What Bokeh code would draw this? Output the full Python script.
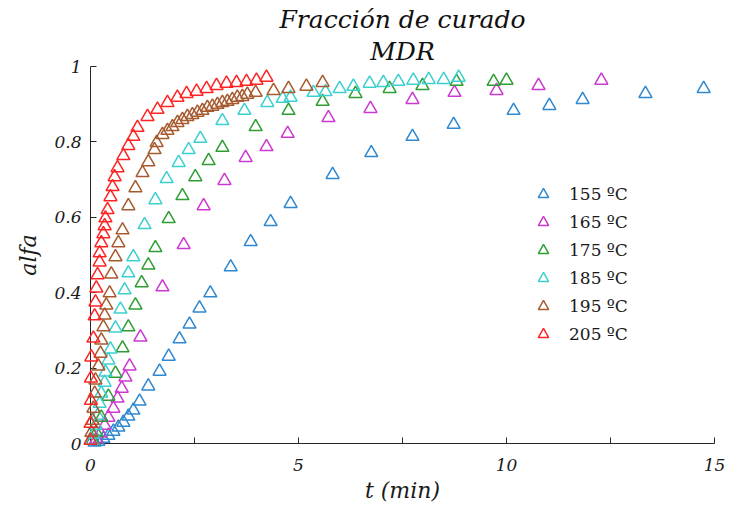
from bokeh.plotting import figure
from bokeh.models import (Range1d, LinearAxis, FixedTicker, CustomJSTickFormatter,
                          Legend, LegendItem, Title)
from bokeh.embed import file_html
from bokeh.resources import INLINE

# ---------------- data ----------------
t155 = [0.10, 0.19, 0.31, 0.43, 0.55, 0.67, 0.79, 0.91, 1.03, 1.18, 1.39, 1.66, 1.88, 2.14, 2.38,
        2.62, 2.88, 3.37, 3.85, 4.33, 4.81, 5.82, 6.75, 7.74, 8.73, 10.17, 11.03, 11.83, 13.34, 14.74]
a155 = [0.003, 0.005, 0.013, 0.021, 0.032, 0.043, 0.056, 0.072, 0.088, 0.112, 0.152, 0.191, 0.231, 0.277, 0.316,
        0.359, 0.399, 0.468, 0.535, 0.588, 0.636, 0.713, 0.771, 0.814, 0.846, 0.883, 0.896, 0.912, 0.928, 0.941]

t165 = [0.14, 0.24, 0.34, 0.43, 0.55, 0.65, 0.75, 0.84, 0.94, 1.20, 1.73, 2.24, 2.72, 3.22, 3.73, 4.23,
        4.74, 5.72, 6.73, 7.74, 8.75, 9.76, 10.77, 12.28]
a165 = [0.011, 0.027, 0.048, 0.069, 0.093, 0.120, 0.146, 0.176, 0.205, 0.282, 0.415, 0.527, 0.630, 0.697, 0.758, 0.787,
        0.822, 0.864, 0.888, 0.912, 0.931, 0.936, 0.949, 0.963]

t175 = [0.05, 0.14, 0.26, 0.43, 0.60, 0.77, 0.91, 1.08, 1.23, 1.39, 1.56, 1.88, 2.21, 2.52, 2.84, 3.17,
        3.97, 4.76, 5.58, 6.37, 7.19, 7.98, 8.80, 9.69, 10.0]
a175 = [0.008, 0.029, 0.069, 0.125, 0.186, 0.253, 0.309, 0.367, 0.426, 0.473, 0.519, 0.596, 0.657, 0.707, 0.750, 0.785,
        0.840, 0.883, 0.907, 0.928, 0.941, 0.949, 0.960, 0.960, 0.963]

t185 = [0.02, 0.07, 0.12, 0.17, 0.22, 0.26, 0.34, 0.36, 0.43, 0.48, 0.60, 0.72, 0.82, 0.91, 1.03, 1.30, 1.56,
        1.83, 2.12, 2.36, 2.64, 3.17, 3.70, 4.25, 4.62, 4.81, 5.36, 5.65, 5.99, 6.32, 6.71, 7.04, 7.40, 7.76,
        8.13, 8.49, 8.85]
a185 = [0.008, 0.024, 0.048, 0.074, 0.106, 0.133, 0.162, 0.189, 0.221, 0.250, 0.306, 0.356, 0.407, 0.452, 0.495,
        0.580, 0.646, 0.702, 0.745, 0.779, 0.809, 0.856, 0.883, 0.904, 0.915, 0.918, 0.931, 0.933, 0.941, 0.947,
        0.955, 0.957, 0.960, 0.963, 0.965, 0.965, 0.971]

t195 = [0.02, 0.05, 0.07, 0.10, 0.12, 0.19, 0.24, 0.26, 0.31, 0.34, 0.38, 0.46, 0.50, 0.60, 0.67, 0.77, 0.91,
        1.08, 1.25, 1.39, 1.54, 1.59, 1.73, 1.85, 1.97, 2.09, 2.21, 2.33, 2.45, 2.57, 2.69, 2.81, 2.93, 3.05,
        3.17, 3.29, 3.41, 3.53, 3.65, 3.77, 3.97, 4.40, 4.76, 5.19, 5.58]
a195 = [0.029, 0.061, 0.093, 0.133, 0.168, 0.205, 0.239, 0.274, 0.309, 0.340, 0.367, 0.399, 0.449, 0.495, 0.532,
        0.566, 0.630, 0.678, 0.718, 0.747, 0.779, 0.798, 0.819, 0.830, 0.840, 0.851, 0.859, 0.867, 0.872, 0.878,
        0.883, 0.891, 0.894, 0.899, 0.904, 0.907, 0.912, 0.918, 0.920, 0.926, 0.931, 0.936, 0.941, 0.947, 0.957]

t205 = [0.0, 0.0, 0.01, 0.01, 0.02, 0.07, 0.10, 0.12, 0.14, 0.17, 0.22, 0.22, 0.26, 0.31, 0.34, 0.36, 0.41,
        0.48, 0.53, 0.58, 0.65, 0.79, 0.91, 1.03, 1.13, 1.37, 1.61, 1.85, 2.09, 2.31, 2.55, 2.79, 3.03, 3.27,
        3.51, 3.75, 3.99, 4.23]
a205 = [0.008, 0.053, 0.114, 0.173, 0.229, 0.279, 0.338, 0.375, 0.412, 0.447, 0.481, 0.505, 0.532, 0.556, 0.577,
        0.598, 0.620, 0.654, 0.681, 0.707, 0.731, 0.763, 0.790, 0.814, 0.838, 0.867, 0.886, 0.904, 0.918, 0.928,
        0.934, 0.941, 0.949, 0.955, 0.957, 0.960, 0.963, 0.971]

series_labels = ["155 \u00baC", "165 \u00baC", "175 \u00baC", "185 \u00baC", "195 \u00baC", "205 \u00baC"]
series_t = [t155, t165, t175, t185, t195, t205]
series_a = [a155, a165, a175, a185, a195, a205]
colors = ["#2f88d0", "#cc38d0", "#2e9e34", "#3ccfcf", "#a65a2e", "#ff2424"]

x_ticks = [0, 5, 10, 15]
x_minor = [2.5, 7.5, 12.5]
y_ticks = [0, 0.2, 0.4, 0.6, 0.8, 1]

title_1 = "Fracci\u00f3n de curado"
title_2 = "MDR"
x_label = "t (min)"
y_label = "alfa"

serif = "DejaVu Serif"
axis_col = "#262626"

p = figure(width=735, height=508, output_backend="svg", toolbar_location=None,
           x_range=Range1d(0, 15), y_range=Range1d(0, 1.0),
           x_axis_type=None, y_axis_type=None,
           min_border_left=90, min_border_right=21, min_border_top=66, min_border_bottom=65)
p.grid.visible = False
p.outline_line_color = None
p.background_fill_color = "white"
p.border_fill_color = "white"

fmt = CustomJSTickFormatter(code="return tick.toString()")

xaxis = LinearAxis(ticker=FixedTicker(ticks=x_ticks, minor_ticks=x_minor), formatter=fmt)
yaxis = LinearAxis(ticker=FixedTicker(ticks=y_ticks), formatter=fmt)
for ax in (xaxis, yaxis):
    ax.axis_line_color = axis_col
    ax.axis_line_width = 1
    ax.major_tick_line_color = axis_col
    ax.minor_tick_line_color = axis_col
    ax.major_tick_in = 6
    ax.major_tick_out = 0
    ax.minor_tick_in = 6
    ax.minor_tick_out = 0
    ax.major_label_text_font = serif
    ax.major_label_text_font_style = "italic"
    ax.major_label_text_font_size = "17px"
    ax.major_label_text_color = "#1a1a1a"
    ax.axis_label_text_font = serif
    ax.axis_label_text_font_style = "italic"
    ax.axis_label_text_font_size = "22px"
    ax.axis_label_text_color = "#1a1a1a"
yaxis.minor_tick_line_color = None
xaxis.axis_label = x_label
yaxis.axis_label = y_label
xaxis.major_label_standoff = 15
yaxis.major_label_standoff = 9
xaxis.axis_label_standoff = 4
yaxis.axis_label_standoff = 10
p.add_layout(xaxis, "below")
p.add_layout(yaxis, "left")

items = []
for lab, tt, aa, c in zip(series_labels, series_t, series_a, colors):
    r = p.scatter(tt, aa, marker="triangle", size=13, fill_color=None,
                  line_color=c, line_width=1.5, level="annotation")
    items.append(LegendItem(label=lab, renderers=[r]))

legend = Legend(items=items, location=(440, 96), border_line_color=None,
                background_fill_alpha=0, glyph_width=26, glyph_height=26,
                label_height=26, spacing=2, padding=10, margin=0, label_standoff=13,
                label_text_font=serif, label_text_font_size="17px", label_text_color="#1a1a1a")
p.add_layout(legend, "center")

p.title.text = title_1
p.title.align = "center"
p.title.text_font = serif
p.title.text_font_style = "italic"
p.title.text_font_size = "25px"
p.title.text_color = "#111111"
p.title.standoff = 0
p.add_layout(Title(text=title_2, align="center", text_font=serif, text_font_style="italic",
                   text_font_size="25px", text_color="#111111",
                   standoff=2), "above")

open("out.html", "w").write(file_html(p, INLINE))
